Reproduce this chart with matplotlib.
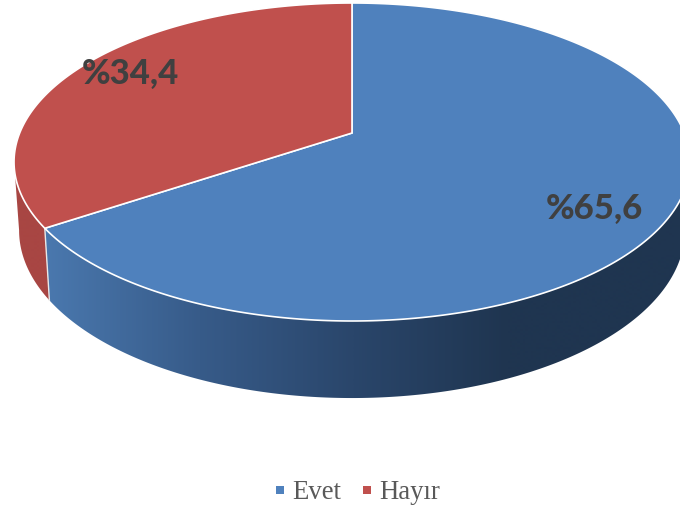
import numpy as np
import matplotlib
matplotlib.use("Agg")
import matplotlib.pyplot as plt
from matplotlib.colors import LinearSegmentedColormap
from matplotlib.lines import Line2D
from matplotlib.patches import Polygon

categories = ["Evet", "Hayır"]
values = [65.6, 34.4]
colors = ["#4F81BD", "#C0504D"]
side_colors = [[(0, "#4A78AE"), (0.3, "#375B89"), (0.6, "#2A466B"), (0.9, "#1F3550"), (1, "#1F3550")],
               [(0, "#A84643"), (1, "#9E413F")]]
label_xy = [(594, 208.5), (130, 73.5)]

fig = plt.figure(figsize=(6.8, 5.12), dpi=100)
ax = fig.add_axes([0, 0, 1, 1])
ax.set_xlim(0, 680)
ax.set_ylim(512, 0)
ax.axis("off")

CX, CY_APEX, K = 352.0, 133.0, 332.3
A, C = -129.45, 0.1824


def top_pts(t):
    x, y = np.sin(t), np.cos(t)
    w = 1 + C * y
    return CX + K * x / w, (A * y + CY_APEX) / w


def bottom_pts(t):
    u, v = top_pts(t)
    return CX + 0.985 * (u - CX), 1.054 * v + 59.7


fractions = np.cumsum([0] + values) / sum(values)
angles = fractions * 2 * np.pi

# side walls: a horizontal gradient clipped to the visible front band of each slice
for i in range(len(values)):
    t = np.linspace(angles[i], angles[i + 1], 1200)
    ux, _ = top_pts(t)
    t = t[:np.argmin(ux) + 1] if i == 1 else t[np.argmax(ux):]
    ux, uy = top_pts(t)
    lx, ly = bottom_pts(t)
    poly = Polygon(np.c_[np.r_[ux, lx[::-1]], np.r_[uy, ly[::-1]]], closed=True,
                   facecolor="none", edgecolor="none", transform=ax.transData)
    ax.add_patch(poly)
    cmap = LinearSegmentedColormap.from_list("side", side_colors[i])
    grad = np.clip((np.linspace(0, 680, 681) - 45) / (560 - 45), 0, 1)[None, :]
    im = ax.imshow(grad, cmap=cmap, vmin=0, vmax=1, extent=(0, 680, 512, 0), aspect="auto",
                   interpolation="bilinear", zorder=2)
    im.set_clip_path(poly)
ax.set_xlim(0, 680)
ax.set_ylim(512, 0)

# seam on the wall between the slices
sx0, sy0 = top_pts(angles[1])
sx1, sy1 = bottom_pts(angles[1])
ax.plot([sx0, sx1], [sy0, sy1], color="#E8E8E8", lw=1.0, zorder=3)

# top faces
for i in range(len(values)):
    t = np.linspace(angles[i], angles[i + 1], 400)
    ux, uy = top_pts(t)
    ax.fill(np.r_[CX, ux], np.r_[CY_APEX, uy], facecolor=colors[i], edgecolor="white", lw=1.2, zorder=4)

# value labels
for v, (lx, ly) in zip(values, label_xy):
    ax.text(lx, ly, f"%{v:.1f}".replace(".", ","), ha="center", va="center", fontsize=25,
            fontweight=900, family="Lato", color="#404040", zorder=5)

handles = [Line2D([], [], linestyle="none", marker="s", markersize=6.2, color=c, markeredgewidth=0) for c in colors]
ax.legend(handles, categories, ncol=2, frameon=False, loc="center", bbox_to_anchor=(357.5, 492.5),
          bbox_transform=ax.transData, handlelength=0.4, handletextpad=0.27, columnspacing=0.75,
          prop={"family": "Liberation Serif", "size": 19.3}, labelcolor="#595959")

fig.savefig("out.png", dpi=100)
